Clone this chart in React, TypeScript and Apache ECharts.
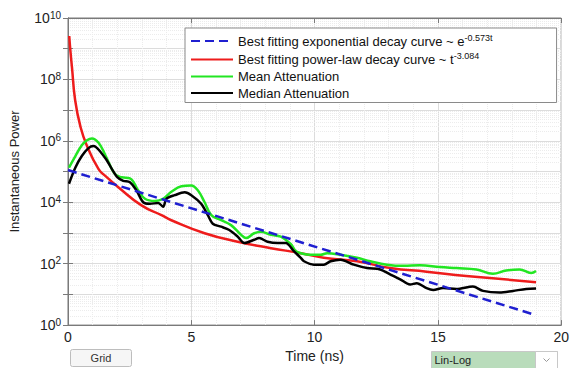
import React, { useEffect, useRef } from "react";
import * as echarts from "echarts";

// ---- data ----
const xTicks = [0, 5, 10, 15, 20];

const expT = [0, 18.98];
const expValues = [1.12e5, 2.1];

const powT = [0.05, 0.1, 0.16, 0.29, 0.5, 0.77, 1.24, 1.5, 2.04, 2.98, 3.79, 4.19, 5.54, 6.88, 8.23, 9.44, 10.37, 11.72, 13.06, 14.54, 16.15, 18.98];
const powValues = [2.6e9, 8e8, 2.5e8, 2.1e7, 3.0e6, 6.8e5, 1.2e5, 7.4e4, 3.1e4, 7.9e3, 3.8e3, 2.6e3, 980, 520, 320, 220, 155, 120, 72, 55, 40, 25];

const meanT = [0.04, 0.3, 0.56, 0.77, 0.97, 1.24, 1.5, 1.9, 2.18, 2.51, 2.85, 3.12, 3.52, 3.86, 4.19, 4.6, 5.0, 5.27, 5.54, 5.81, 6.21, 6.61, 7.02, 7.22, 7.55, 7.82, 8.23, 8.63, 9.03, 9.23, 9.44, 9.84, 10.24, 10.51, 11.05, 11.72, 12.26, 12.93, 13.6, 14.27, 15.08, 15.75, 16.56, 17.23, 17.77, 18.31, 18.78, 18.98];
const meanValues = [1.35e5, 3.2e5, 7.2e5, 1.05e6, 1.2e6, 8.7e5, 3.6e5, 8.3e4, 6.5e4, 6.0e4, 2.4e4, 1.3e4, 1.1e4, 1.3e4, 2.2e4, 3.3e4, 3.5e4, 2.4e4, 1.0e4, 3.8e3, 2.6e3, 1.8e3, 870, 680, 980, 1100, 870, 760, 440, 260, 220, 195, 195, 220, 195, 155, 120, 93, 85, 89, 78, 72, 65, 47, 60, 65, 50, 58];

const medianT = [0.04, 0.3, 0.56, 0.83, 1.03, 1.5, 1.98, 2.24, 2.51, 2.78, 3.05, 3.32, 3.66, 3.86, 3.99, 4.33, 4.73, 5.0, 5.4, 5.67, 5.87, 6.21, 6.54, 6.88, 7.15, 7.55, 7.75, 8.09, 8.5, 8.83, 9.17, 9.44, 9.57, 9.97, 10.37, 10.65, 11.05, 11.59, 12.13, 12.66, 13.06, 13.47, 13.87, 14.14, 14.54, 14.81, 15.21, 15.75, 16.42, 16.83, 17.5, 18.04, 18.58, 18.98];
const medianValues = [4.0e4, 1.35e5, 3.2e5, 5.8e5, 6.8e5, 2.8e5, 6.8e4, 5.0e4, 4.5e4, 2.4e4, 1.0e4, 8.9e3, 9.5e3, 7.1e3, 1.3e4, 1.7e4, 2.1e4, 1.7e4, 8.9e3, 3.8e3, 2.0e3, 1.6e3, 1.25e3, 760, 470, 600, 680, 520, 470, 470, 250, 155, 120, 93, 93, 120, 135, 93, 72, 65, 45, 31, 21, 23, 16, 14, 16, 15, 18, 13, 11.5, 13, 15, 15.5];

const decadeExponents = [0, 1, 2, 3, 4, 5, 6, 7, 8, 9];
const minorMultiples = [2, 3, 4, 5, 6, 7, 8, 9];

const seriesNames = [
  "Best fitting exponential decay curve ~ e^-0.573t",
  "Best fitting power-law decay curve ~ t^-3.084",
  "Mean Attenuation",
  "Median Attenuation",
];
const legendTexts = [
  ["Best fitting exponential decay curve ~ e", "-0.573t"],
  ["Best fitting power-law decay curve ~ t", "-3.084"],
  ["Mean Attenuation", ""],
  ["Median Attenuation", ""],
];

const FONT = "'Liberation Sans', Arial, sans-serif";

export default function App() {
  const ref = useRef<HTMLDivElement>(null);
  useEffect(() => {
    document.body.style.margin = "0";
    const chart = echarts.init(ref.current!, null, { renderer: "svg" });
    const pairs = (ts: number[], vs: number[]) => ts.map((t, i) => [t, vs[i]]);
    const minorGrid: number[] = [];
    decadeExponents.forEach((e) => minorMultiples.forEach((m) => minorGrid.push(m * Math.pow(10, e))));

    const axisColor = "#7a7a7a";
    const option: any = {
      animation: false,
      textStyle: { fontFamily: FONT },
      grid: { left: 67, right: 10, top: 18, bottom: 38, show: true, borderColor: axisColor, borderWidth: 1 },
      legend: {
        orient: "vertical",
        left: 185,
        top: 28,
        padding: [5, 64, 3, 5],
        itemGap: 3.5,
        itemWidth: 42,
        itemHeight: 14,
        backgroundColor: "#fff",
        borderColor: "#8a8a8a",
        borderWidth: 1,
        itemStyle: { opacity: 0 },
        data: seriesNames,
        formatter: (name: string) => {
          const idx = seriesNames.indexOf(name);
          const [a, b] = legendTexts[idx];
          return b ? `{t|${a}}{s|${b}}` : `{t|${a}}`;
        },
        textStyle: {
          fontFamily: FONT,
          rich: {
            t: { fontSize: 13, color: "#111", fontFamily: FONT, lineHeight: 16 },
            s: { fontSize: 9, color: "#111", fontFamily: FONT, verticalAlign: "top", lineHeight: 9, padding: [0, 0, 6, 0] },
          },
        },
      },
      xAxis: [
        {
          type: "value",
          min: 0,
          max: 20,
          interval: 5,
          name: "Time (ns)",
          nameLocation: "middle",
          nameGap: 20,
          nameTextStyle: { fontSize: 14, color: "#222", fontFamily: FONT },
          axisLine: { show: true, lineStyle: { color: axisColor } },
          axisTick: { show: true, inside: true, length: 5, lineStyle: { color: axisColor } },
          minorTick: { show: false, splitNumber: 5 },
          axisLabel: { fontSize: 14, color: "#222", margin: 5, fontFamily: FONT },
          splitLine: { show: true, lineStyle: { color: "#dcdcdc", width: 1 } },
          minorSplitLine: { show: true, lineStyle: { color: "#ececec", type: "dotted", width: 1 } },
        },
        {
          type: "value",
          min: 0,
          max: 20,
          interval: 5,
          position: "top",
          axisLine: { show: true, lineStyle: { color: axisColor } },
          axisTick: { show: true, inside: true, length: 5, lineStyle: { color: axisColor } },
          axisLabel: { show: false },
          splitLine: { show: false },
        },
      ],
      yAxis: [
        {
          type: "log",
          logBase: 10,
          min: 1,
          max: 1e10,
          interval: 1,
          name: "Instantaneous Power",
          nameLocation: "middle",
          nameGap: 47,
          nameTextStyle: { fontSize: 13, color: "#222", fontFamily: FONT },
          axisLine: { show: true, lineStyle: { color: axisColor } },
          axisTick: { show: true, inside: true, length: 5, lineStyle: { color: axisColor } },
          axisLabel: {
            margin: 7,
            formatter: (v: number) => {
              const e = Math.round(Math.log10(v));
              return e % 2 === 0 ? `{b|10}{s|${e}}` : "";
            },
            rich: {
              b: { fontSize: 14, color: "#222", fontFamily: FONT, lineHeight: 16 },
              s: { fontSize: 10, color: "#222", fontFamily: FONT, verticalAlign: "top", lineHeight: 10, padding: [0, 0, 8, 0] },
            },
          },
          splitLine: { show: true, lineStyle: { color: "#dcdcdc", width: 1 } },
        },
        {
          type: "log",
          logBase: 10,
          min: 1,
          max: 1e10,
          interval: 1,
          position: "right",
          axisLine: { show: true, lineStyle: { color: axisColor } },
          axisTick: { show: true, inside: true, length: 5, lineStyle: { color: axisColor } },
          axisLabel: { show: false },
          splitLine: { show: false },
        },
      ],
      series: [
        {
          name: "minor-grid",
          type: "line",
          data: [],
          symbol: "none",
          silent: true,
          z: 0,
          markLine: {
            silent: true,
            z: 0,
            symbol: "none",
            label: { show: false },
            emphasis: { disabled: true },
            lineStyle: { color: "#ececec", type: "dotted", width: 1 },
            data: minorGrid.map((v) => ({ yAxis: v })),
          },
        },
        {
          name: seriesNames[0],
          type: "line",
          data: pairs(expT, expValues),
          symbol: "none",
          lineStyle: { color: "#1f1fd0", width: 2.5, type: [9, 5] },
          itemStyle: { color: "#1f1fd0" },
          z: 6,
        },
        {
          name: seriesNames[1],
          type: "line",
          data: pairs(powT, powValues),
          symbol: "none",
          smooth: 0.5,
          lineStyle: { color: "#ee1c1c", width: 2.5 },
          itemStyle: { color: "#ee1c1c" },
          z: 3,
        },
        {
          name: seriesNames[2],
          type: "line",
          data: pairs(meanT, meanValues),
          symbol: "none",
          smooth: 0.4,
          lineStyle: { color: "#22e622", width: 2.5 },
          itemStyle: { color: "#22e622" },
          z: 4,
        },
        {
          name: seriesNames[3],
          type: "line",
          data: pairs(medianT, medianValues),
          symbol: "none",
          smooth: 0.3,
          lineStyle: { color: "#000", width: 2.5 },
          itemStyle: { color: "#000" },
          z: 5,
        },
      ],
      graphic: [
        {
          type: "group",
          left: 70,
          top: 349,
          children: [
            { type: "rect", shape: { x: 0, y: 0, width: 61, height: 17, r: 2 }, style: { fill: "#f6f6f6", stroke: "#bdbdbd", lineWidth: 1 } },
            { type: "text", x: 30.5, y: 8.5, style: { text: "Grid", fontSize: 11, fontFamily: FONT, fill: "#333", align: "center", verticalAlign: "middle" } },
          ],
        },
        {
          type: "group",
          left: 431,
          top: 351,
          children: [
            { type: "rect", shape: { x: 0, y: 0, width: 126, height: 19 }, style: { fill: "#b9dcbb", stroke: "#c8c8c8", lineWidth: 1 } },
            { type: "rect", shape: { x: 104, y: 0, width: 22, height: 19 }, style: { fill: "#ffffff", stroke: "#c8c8c8", lineWidth: 1 } },
            { type: "text", x: 3, y: 8, style: { text: "Lin-Log", fontSize: 11, fontFamily: FONT, fill: "#222", verticalAlign: "middle" } },
            { type: "polyline", shape: { points: [[112, 7], [115, 10], [118, 7]] }, style: { stroke: "#999", lineWidth: 1, fill: "none" } },
          ],
        },
      ],
    };
    chart.setOption(option);
    return () => chart.dispose();
  }, []);
  return <div ref={ref} style={{ width: 572, height: 368 }} />;
}
